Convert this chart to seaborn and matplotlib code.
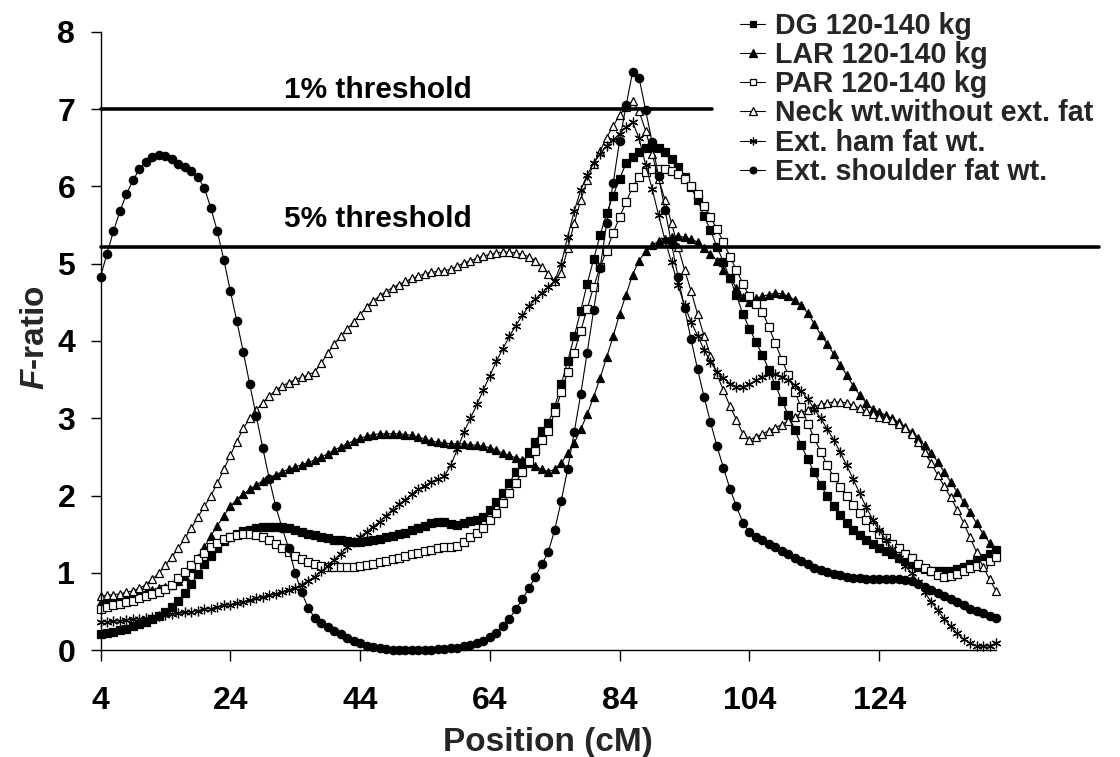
import numpy as np
import pandas as pd
import matplotlib
matplotlib.use("Agg")
import matplotlib.pyplot as plt
import seaborn as sns

# ---------------- data ----------------
positions = list(range(4, 143))  # cM, one value per cM

dg = [0.21, 0.22, 0.24, 0.26, 0.28, 0.31, 0.34, 0.37, 0.41, 0.45,
      0.50, 0.56, 0.64, 0.74, 0.86, 0.99, 1.11, 1.22, 1.32, 1.41,
      1.47, 1.51, 1.54, 1.56, 1.58, 1.59, 1.60, 1.60, 1.59, 1.58,
      1.56, 1.53, 1.51, 1.49, 1.47, 1.45, 1.43, 1.42, 1.41, 1.40,
      1.40, 1.41, 1.42, 1.44, 1.46, 1.48, 1.50, 1.52, 1.55, 1.58,
      1.61, 1.64, 1.66, 1.66, 1.63, 1.62, 1.64, 1.67, 1.69, 1.73,
      1.82, 1.92, 2.03, 2.17, 2.30, 2.42, 2.57, 2.70, 2.84, 2.94,
      3.15, 3.44, 3.74, 4.06, 4.39, 4.74, 5.06, 5.37, 5.65, 5.88,
      6.10, 6.30, 6.38, 6.44, 6.49, 6.51, 6.49, 6.44, 6.36, 6.25,
      6.12, 5.99, 5.82, 5.62, 5.43, 5.22, 5.02, 4.81, 4.59, 4.35,
      4.16, 3.99, 3.82, 3.63, 3.43, 3.23, 3.04, 2.85, 2.65, 2.47,
      2.30, 2.14, 1.99, 1.86, 1.75, 1.64, 1.56, 1.49, 1.43, 1.37,
      1.32, 1.28, 1.24, 1.20, 1.16, 1.12, 1.08, 1.05, 1.03, 1.02,
      1.02, 1.03, 1.05, 1.08, 1.11, 1.15, 1.20, 1.25, 1.30]

lar = [0.62, 0.64, 0.66, 0.68, 0.70, 0.72, 0.74, 0.76, 0.78, 0.80,
       0.82, 0.85, 0.89, 0.96, 1.07, 1.20, 1.34, 1.48, 1.61, 1.74,
       1.86, 1.95, 2.02, 2.08, 2.14, 2.19, 2.23, 2.27, 2.31, 2.34,
       2.37, 2.40, 2.43, 2.46, 2.50, 2.54, 2.59, 2.63, 2.67, 2.71,
       2.74, 2.77, 2.79, 2.80, 2.80, 2.80, 2.80, 2.79, 2.78, 2.76,
       2.73, 2.71, 2.69, 2.68, 2.67, 2.67, 2.67, 2.66, 2.65, 2.64,
       2.62, 2.59, 2.55, 2.52, 2.49, 2.46, 2.42, 2.38, 2.34, 2.31,
       2.34, 2.42, 2.55, 2.68, 2.86, 3.05, 3.28, 3.52, 3.79, 4.06,
       4.35, 4.60, 4.86, 5.04, 5.16, 5.24, 5.29, 5.32, 5.35, 5.36,
       5.34, 5.32, 5.28, 5.20, 5.12, 5.04, 4.92, 4.81, 4.69, 4.57,
       4.51, 4.55, 4.58, 4.60, 4.62, 4.61, 4.58, 4.53, 4.46, 4.36,
       4.22, 4.08, 3.96, 3.83, 3.69, 3.56, 3.42, 3.30, 3.20, 3.12,
       3.08, 3.04, 3.00, 2.95, 2.89, 2.82, 2.74, 2.65, 2.55, 2.44,
       2.31, 2.18, 2.05, 1.92, 1.79, 1.64, 1.51, 1.39, 1.30]

par = [0.54, 0.56, 0.58, 0.60, 0.62, 0.64, 0.67, 0.70, 0.73, 0.76,
       0.79, 0.85, 0.93, 1.01, 1.10, 1.18, 1.26, 1.33, 1.39, 1.44,
       1.47, 1.49, 1.50, 1.50, 1.49, 1.46, 1.42, 1.37, 1.32, 1.27,
       1.22, 1.18, 1.14, 1.11, 1.09, 1.08, 1.08, 1.08, 1.08, 1.08,
       1.09, 1.10, 1.12, 1.14, 1.16, 1.18, 1.20, 1.22, 1.24, 1.26,
       1.28, 1.30, 1.32, 1.33, 1.34, 1.35, 1.40, 1.46, 1.52, 1.58,
       1.68, 1.78, 1.90, 2.03, 2.17, 2.30, 2.45, 2.58, 2.72, 2.84,
       3.08, 3.34, 3.60, 3.85, 4.13, 4.42, 4.70, 4.96, 5.17, 5.40,
       5.60, 5.80, 5.99, 6.12, 6.18, 6.22, 6.23, 6.22, 6.20, 6.16,
       6.10, 6.01, 5.90, 5.75, 5.60, 5.45, 5.28, 5.09, 4.92, 4.74,
       4.58, 4.48, 4.38, 4.18, 3.97, 3.76, 3.56, 3.34, 3.14, 2.93,
       2.74, 2.57, 2.39, 2.24, 2.11, 1.99, 1.88, 1.77, 1.68, 1.60,
       1.51, 1.45, 1.38, 1.32, 1.25, 1.19, 1.12, 1.06, 1.02, 0.97,
       0.95, 0.96, 0.99, 1.03, 1.06, 1.09, 1.12, 1.16, 1.21]

neck = [0.70, 0.71, 0.72, 0.73, 0.75, 0.77, 0.80, 0.85, 0.92, 1.00,
        1.10, 1.21, 1.32, 1.45, 1.58, 1.72, 1.86, 2.00, 2.16, 2.34,
        2.52, 2.70, 2.87, 3.00, 3.11, 3.20, 3.29, 3.36, 3.42, 3.46,
        3.50, 3.53, 3.56, 3.60, 3.71, 3.84, 3.96, 4.06, 4.15, 4.25,
        4.34, 4.44, 4.52, 4.58, 4.64, 4.69, 4.73, 4.77, 4.81, 4.84,
        4.87, 4.89, 4.90, 4.91, 4.93, 4.97, 5.01, 5.04, 5.07, 5.10,
        5.12, 5.14, 5.15, 5.15, 5.14, 5.12, 5.09, 5.04, 4.96, 4.87,
        4.78, 4.88, 5.20, 5.52, 5.82, 6.08, 6.29, 6.46, 6.63, 6.78,
        6.92, 7.03, 7.10, 6.97, 6.72, 6.42, 6.10, 5.82, 5.52, 5.22,
        4.92, 4.65, 4.35, 4.07, 3.81, 3.57, 3.36, 3.16, 2.98, 2.80,
        2.72, 2.76, 2.80, 2.84, 2.88, 2.92, 2.97, 3.02, 3.07, 3.11,
        3.15, 3.18, 3.20, 3.21, 3.21, 3.20, 3.17, 3.13, 3.09, 3.05,
        3.02, 3.00, 2.98, 2.93, 2.87, 2.80, 2.69, 2.56, 2.42, 2.27,
        2.12, 1.98, 1.82, 1.65, 1.46, 1.27, 1.08, 0.92, 0.77]

ham = [0.37, 0.37, 0.38, 0.38, 0.39, 0.40, 0.41, 0.42, 0.43, 0.45,
       0.46, 0.47, 0.48, 0.49, 0.50, 0.51, 0.53, 0.54, 0.56, 0.58,
       0.59, 0.61, 0.63, 0.65, 0.67, 0.69, 0.71, 0.73, 0.76, 0.78,
       0.81, 0.85, 0.90, 0.95, 1.02, 1.09, 1.17, 1.25, 1.33, 1.40,
       1.47, 1.53, 1.60, 1.66, 1.74, 1.82, 1.89, 1.95, 2.02, 2.08,
       2.13, 2.18, 2.21, 2.25, 2.40, 2.60, 2.82, 3.00, 3.18, 3.37,
       3.55, 3.74, 3.90, 4.06, 4.20, 4.33, 4.45, 4.54, 4.62, 4.70,
       4.78, 5.00, 5.35, 5.68, 5.95, 6.15, 6.30, 6.42, 6.52, 6.60,
       6.68, 6.77, 6.83, 6.62, 6.28, 5.97, 5.63, 5.30, 5.02, 4.72,
       4.46, 4.25, 4.07, 3.89, 3.73, 3.60, 3.52, 3.45, 3.41, 3.41,
       3.44, 3.49, 3.54, 3.57, 3.57, 3.54, 3.49, 3.43, 3.35, 3.25,
       3.12, 3.00, 2.86, 2.72, 2.56, 2.39, 2.21, 2.03, 1.85, 1.69,
       1.55, 1.43, 1.31, 1.20, 1.09, 1.00, 0.88, 0.75, 0.63, 0.52,
       0.41, 0.31, 0.22, 0.14, 0.09, 0.06, 0.05, 0.06, 0.09]

shoulder = [4.83, 5.13, 5.42, 5.68, 5.90, 6.08, 6.22, 6.32, 6.38, 6.40,
            6.39, 6.35, 6.29, 6.25, 6.20, 6.12, 5.98, 5.72, 5.42, 5.05,
            4.65, 4.26, 3.86, 3.44, 3.03, 2.62, 2.22, 1.86, 1.58, 1.32,
            1.00, 0.75, 0.55, 0.42, 0.35, 0.30, 0.25, 0.21, 0.16, 0.12,
            0.09, 0.06, 0.04, 0.03, 0.02, 0.01, 0.01, 0.01, 0.01, 0.01,
            0.01, 0.01, 0.02, 0.02, 0.03, 0.03, 0.05, 0.07, 0.09, 0.12,
            0.17, 0.23, 0.31, 0.41, 0.53, 0.66, 0.80, 0.95, 1.11, 1.27,
            1.56, 1.93, 2.35, 2.82, 3.31, 3.85, 4.40, 4.95, 5.52, 6.04,
            6.59, 7.05, 7.48, 7.40, 6.99, 6.57, 6.13, 5.69, 5.26, 4.83,
            4.43, 4.02, 3.64, 3.28, 2.95, 2.64, 2.36, 2.09, 1.86, 1.65,
            1.53, 1.47, 1.42, 1.37, 1.33, 1.29, 1.24, 1.19, 1.15, 1.12,
            1.07, 1.04, 1.01, 0.99, 0.97, 0.95, 0.94, 0.93, 0.92, 0.92,
            0.92, 0.92, 0.92, 0.92, 0.91, 0.89, 0.86, 0.82, 0.78, 0.74,
            0.70, 0.66, 0.62, 0.58, 0.54, 0.51, 0.48, 0.45, 0.42]

series_names = ["DG 120-140 kg", "LAR 120-140 kg", "PAR 120-140 kg",
                "Neck wt.without ext. fat", "Ext. ham fat wt.",
                "Ext. shoulder fat wt."]
series_values = [dg, lar, par, neck, ham, shoulder]

thresholds = [7.0, 5.22]
threshold_labels = ["1% threshold", "5% threshold"]

x_ticks = [4, 24, 44, 64, 84, 104, 124]
y_ticks = [0, 1, 2, 3, 4, 5, 6, 7, 8]

# ---------------- style ----------------
sns.set_style("ticks")
plt.rcParams["font.family"] = ["Liberation Sans", "DejaVu Sans"]
plt.rcParams["font.weight"] = "bold"
plt.rcParams["mathtext.fontset"] = "custom"
plt.rcParams["mathtext.it"] = "Liberation Sans:italic:bold"
plt.rcParams["mathtext.rm"] = "Liberation Sans:bold"
plt.rcParams["mathtext.bf"] = "Liberation Sans:bold"

W, H = 1120, 757
fig = plt.figure(figsize=(W / 100, H / 100), dpi=100)
fig.patch.set_facecolor("white")
ax_l, ax_r, ax_t, ax_b = 100.5, 996, 31.7, 650.3
ax = fig.add_axes([ax_l / W, (H - ax_b) / H, (ax_r - ax_l) / W, (ax_b - ax_t) / H])

styles = [
    dict(marker="s", markersize=5.4, markerfacecolor="black"),
    dict(marker="^", markersize=6.4, markerfacecolor="black"),
    dict(marker="s", markersize=5.4, markerfacecolor="white"),
    dict(marker="^", markersize=6.4, markerfacecolor="white"),
    dict(marker=(6, 2, 0), markersize=7.0, markerfacecolor="black"),
    dict(marker="o", markersize=6.0, markerfacecolor="black"),
]

df = pd.DataFrame({"Position": positions})
for name, vals, st in zip(series_names, series_values, styles):
    df[name] = vals
    sns.lineplot(data=df, x="Position", y=name, ax=ax, color="black",
                 linewidth=0.8, markeredgecolor="black", markeredgewidth=0.9,
                 label=name, clip_on=False, **st)

if ax.get_legend() is not None:
    ax.get_legend().remove()

ax.set_xlim(4, 142)
ax.set_ylim(0, 8)
ax.set_xticks(x_ticks)
ax.set_yticks(y_ticks)
ax.set_xlabel("")
ax.set_ylabel("")
for s in ["top", "right"]:
    ax.spines[s].set_visible(False)
for s in ["left", "bottom"]:
    ax.spines[s].set_color("black")
    ax.spines[s].set_linewidth(1.0)
ax.tick_params(axis="x", length=8, width=1, pad=18, labelsize=23, colors="black", direction="out")
ax.tick_params(axis="y", length=7.2, width=1, pad=11, labelsize=23, colors="black", direction="out")
for lab in ax.get_xticklabels() + ax.get_yticklabels():
    lab.set_fontweight("bold")

# threshold lines (1% line ends short, 5% line runs under the legend)
line_ends = [98.2, 157.8]
for thr, xe in zip(thresholds, line_ends):
    ax.plot([4, xe], [thr, thr], color="black", linewidth=2.6, clip_on=False, zorder=6)
label_y = [7.14, 5.47]
for txt, yy in zip(threshold_labels, label_y):
    ax.text(46.7, yy, txt, ha="center", va="baseline", fontsize=21.5,
            fontweight="bold", color="black")

# axis titles
fig.text(35 / W, 1 - 338 / H, "$F$-ratio", rotation=90, ha="center", va="center",
         fontsize=24, fontweight="bold")
fig.text(548 / W, 1 - 742 / H, "Position (cM)", ha="center", va="center",
         fontsize=24, fontweight="bold")

handles, labels = ax.get_legend_handles_labels()
fig.legend(handles, labels, loc="upper left",
           bbox_to_anchor=(740 / W, 1 - 12 / H), bbox_transform=fig.transFigure,
           frameon=False, fontsize=20.6, handlelength=0.88, handletextpad=0.36,
           labelspacing=0.04, borderpad=0, borderaxespad=0, markerscale=0.8)

fig.savefig("out.png", dpi=100, facecolor="white")
